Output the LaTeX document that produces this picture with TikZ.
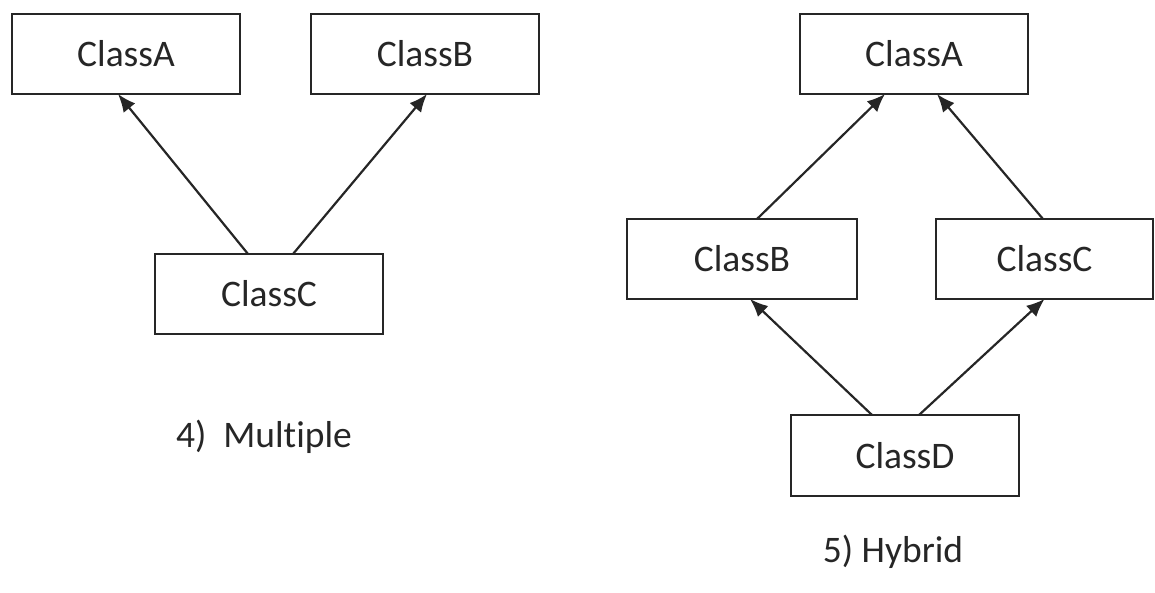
\documentclass[tikz,border=0pt]{standalone}
\usepackage{fontspec}
\setmainfont{Carlito}[Ligatures={NoCommon}]
\usetikzlibrary{arrows.meta,calc}
\tikzset{
  cls/.style={draw=black!85,line width=2.6pt,fill=white,inner sep=0pt,outer sep=0pt,
    minimum width=228pt,minimum height=80pt,font=\fontsize{37.5}{44}\selectfont,text=black!85},
  arr/.style={draw=black!85,line width=2.2pt,-{Latex[length=18pt,width=15pt]}},
  lbl/.style={font=\fontsize{37.5}{44}\selectfont,text=black!85,anchor=base,inner sep=0pt}
}
\begin{document}
\begin{tikzpicture}[x=1pt,y=-1pt]
\useasboundingbox (0,0) rectangle (1155,593);
% Multiple
\node[cls] (la) at (126,54) {ClassA};
\node[cls] (lb) at (425,54) {ClassB};
\node[cls] (lc) at (269,294) {ClassC};
\draw[arr] ([xshift=-21pt]lc.north) -- ([xshift=-8pt]la.south);
\draw[arr] ([xshift=24pt]lc.north) -- ([xshift=2pt]lb.south);
\node[lbl] (lm) at (264,447) {4)\ \ Multiple};
% Hybrid
\node[cls] (ra) at (914,54) {ClassA};
\node[cls,minimum width=230pt] (rb) at (742,259) {ClassB};
\node[cls,minimum width=217pt] (rc) at (1044.5,259) {ClassC};
\node[cls,minimum height=81pt] (rd) at (905,455.5) {ClassD};
\draw[arr] ([xshift=15pt]rb.north) -- ([xshift=-29pt]ra.south);
\draw[arr] ([xshift=-1.5pt]rc.north) -- ([xshift=23pt]ra.south);
\draw[arr] ([xshift=-33pt]rd.north) -- ([xshift=8pt]rb.south);
\draw[arr] ([xshift=14pt]rd.north) -- ([xshift=0pt]rc.south);
\node[lbl] (lh) at (893,562) {5) Hybrid};
\end{tikzpicture}
\end{document}
